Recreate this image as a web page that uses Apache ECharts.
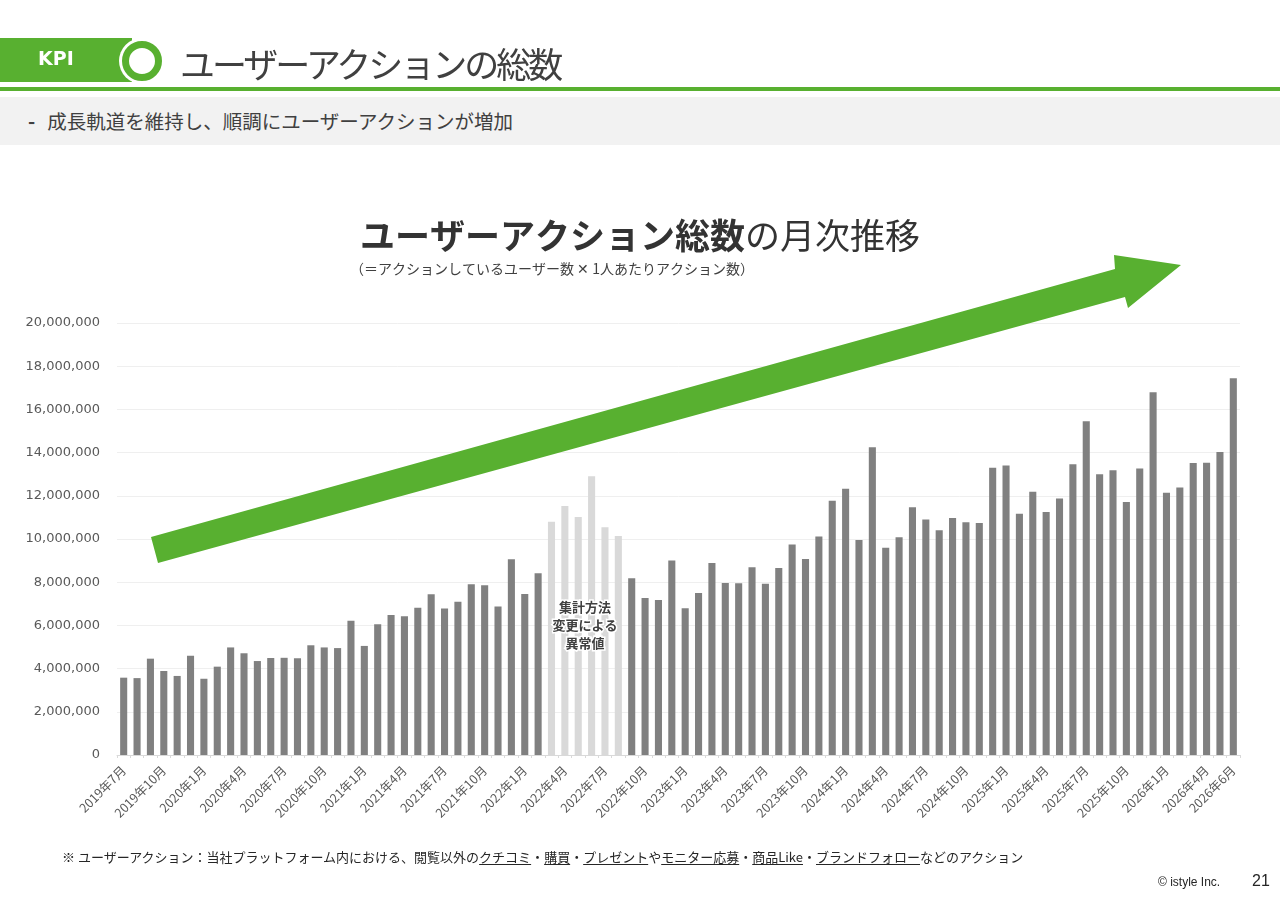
<!DOCTYPE html>
<html>
<head>
<meta charset="utf-8">
<script src="https://cdn.jsdelivr.net/npm/echarts@6/dist/echarts.min.js"></script>
<style>
  html, body { margin: 0; padding: 0; background: #fff; }
  body { width: 1280px; height: 904px; position: relative; overflow: hidden;
         font-family: "Noto Sans CJK JP", "Noto Sans", sans-serif; color: #404040; }
  #chart { position: absolute; left: 0; top: 0; width: 1280px; height: 904px; }
  .kpi { position: absolute; left: 0; top: 38px; width: 132px; height: 44px; background: #58b030; }
  .kpi span { position: absolute; left: 38px; top: 9px; color: #fff; font: bold 19px "DejaVu Sans", sans-serif; }
  .ring { position: absolute; left: 119px; top: 38px; width: 46px; height: 46px; border-radius: 50%; background: #fff; }
  .ring div { position: absolute; left: 3px; top: 3px; width: 26px; height: 26px; border-radius: 50%; border: 7px solid #58b030; background: #fff; }
  .head { position: absolute; left: 180px; top: 37px; font-size: 35px; color: #404040; letter-spacing: -3px; }
  .gline { position: absolute; left: 0; top: 87px; width: 1280px; height: 4px; background: #58b030; }
  .band { position: absolute; left: 0; top: 97px; width: 1280px; height: 48px; background: #f2f2f2; }
  .band span { position: absolute; left: 28px; top: 9px; font-size: 19.5px; color: #404040; }
  .note { position: absolute; left: 62px; top: 847px; font-size: 13px; color: #262626; }
  .note u { text-underline-offset: 2px; }
  .copy { position: absolute; left: 1158px; top: 875px; font: 12px "Liberation Sans", Arial, sans-serif; color: #262626; }
  .page { position: absolute; left: 1252px; top: 872px; font: 16px "Liberation Sans", Arial, sans-serif; color: #262626; }
</style>
</head>
<body>
<div id="chart"></div>
<div class="kpi"><span>KPI</span></div>
<div class="ring"><div></div></div>
<div class="head">ユーザーアクションの総数</div>
<div class="gline"></div>
<div class="band"><span><b style="margin-right:12px">-</b>成長軌道を維持し、順調にユーザーアクションが増加</span></div>
<div class="note">※ ユーザーアクション：当社プラットフォーム内における、閲覧以外の<u>クチコミ</u>・<u>購買</u>・<u>プレゼント</u>や<u>モニター応募</u>・<u>商品Like</u>・<u>ブランドフォロー</u>などのアクション</div>
<div class="copy">© istyle Inc.</div>
<div class="page">21</div>
<script>
// 月ラベル (2019年7月〜2026年6月)
const months = [
  '2019年7月','2019年8月','2019年9月','2019年10月','2019年11月','2019年12月',
  '2020年1月','2020年2月','2020年3月','2020年4月','2020年5月','2020年6月',
  '2020年7月','2020年8月','2020年9月','2020年10月','2020年11月','2020年12月',
  '2021年1月','2021年2月','2021年3月','2021年4月','2021年5月','2021年6月',
  '2021年7月','2021年8月','2021年9月','2021年10月','2021年11月','2021年12月',
  '2022年1月','2022年2月','2022年3月','2022年4月','2022年5月','2022年6月',
  '2022年7月','2022年8月','2022年9月','2022年10月','2022年11月','2022年12月',
  '2023年1月','2023年2月','2023年3月','2023年4月','2023年5月','2023年6月',
  '2023年7月','2023年8月','2023年9月','2023年10月','2023年11月','2023年12月',
  '2024年1月','2024年2月','2024年3月','2024年4月','2024年5月','2024年6月',
  '2024年7月','2024年8月','2024年9月','2024年10月','2024年11月','2024年12月',
  '2025年1月','2025年2月','2025年3月','2025年4月','2025年5月','2025年6月',
  '2025年7月','2025年8月','2025年9月','2025年10月','2025年11月','2025年12月',
  '2026年1月','2026年2月','2026年3月','2026年4月','2026年5月','2026年6月'
]

// ユーザーアクション総数 (月次)
const actions = [
  3580000, 3560000, 4460000, 3890000, 3660000, 4600000,
  3530000, 4090000, 4980000, 4710000, 4350000, 4490000,
  4500000, 4480000, 5080000, 4980000, 4950000, 6220000,
  5050000, 6050000, 6480000, 6420000, 6820000, 7440000,
  6780000, 7100000, 7900000, 7860000, 6880000, 9060000,
  7450000, 8410000, 10800000, 11530000, 11020000, 12900000,
  10540000, 10140000, 8180000, 7270000, 7180000, 9000000,
  6790000, 7500000, 8890000, 7960000, 7950000, 8690000,
  7930000, 8660000, 9740000, 9070000, 10120000, 11770000,
  12330000, 9950000, 14250000, 9600000, 10080000, 11470000,
  10900000, 10400000, 10970000, 10770000, 10740000, 13300000,
  13400000, 11170000, 12190000, 11250000, 11880000, 13460000,
  15450000, 13000000, 13180000, 11710000, 13260000, 16790000,
  12140000, 12390000, 13520000, 13530000, 14030000, 17440000
]

// 集計方法変更による異常値の月
const anomalyMonths = ['2022年3月','2022年4月','2022年5月','2022年6月','2022年7月','2022年8月']

const yTicks = [0, 20000000, 2000000]

const barData = actions.map((v, i) => ({
  value: v,
  itemStyle: { color: anomalyMonths.includes(months[i]) ? '#d9d9d9' : '#808080' }
}))

const myChart = echarts.init(document.getElementById('chart'))
const option = {
  animation: false,
  title: {
    text: '{b|ユーザーアクション総数}{r|の月次推移}',
    left: 'center',
    top: 213,
    textStyle: {
      rich: {
        b: { fontSize: 35, fontWeight: 'bold', color: '#333', fontFamily: 'Noto Sans CJK JP' },
        r: { fontSize: 35, fontWeight: 'normal', color: '#333', fontFamily: 'Noto Sans CJK JP' }
      }
    }
  },
  grid: { left: 117, right: 40, top: 323, bottom: 149 },
  xAxis: {
    type: 'category',
    data: months,
    axisLine: { lineStyle: { color: '#d9d9d9' } },
    axisTick: { show: true, interval: 0, length: 3, lineStyle: { color: '#d9d9d9' } },
    axisLabel: {
      rotate: 45,
      interval: (i) => i % 3 === 0 || i === months.length - 1,
      color: '#595959',
      fontSize: 12.5,
      margin: 13,
      fontFamily: 'Noto Sans CJK JP'
    }
  },
  yAxis: {
    type: 'value',
    min: yTicks[0],
    max: yTicks[1],
    interval: yTicks[2],
    axisLine: { show: false },
    axisTick: { show: false },
    splitLine: { lineStyle: { color: '#efefef' } },
    axisLabel: {
      color: '#595959',
      fontSize: 13,
      margin: 17,
      fontFamily: 'DejaVu Sans',
      formatter: (v) => v.toLocaleString('en-US')
    }
  },
  series: [{
    type: 'bar',
    data: barData,
    barWidth: '53%'
  }],
  graphic: [
    {
      type: 'text',
      left: 350,
      top: 262,
      style: {
        text: '（＝アクションしているユーザー数 ✕ 1人あたりアクション数）',
        fill: '#404040',
        font: '14px "Noto Sans CJK JP"'
      }
    },
    {
      type: 'polygon',
      z: 10,
      shape: {
        points: [[151, 537], [1115, 269], [1114, 255], [1181, 265], [1128, 308], [1125, 297], [158, 563]]
      },
      style: { fill: '#58b030' }
    },
    {
      type: 'text',
      z: 10,
      x: 585,
      y: 598,
      style: {
        text: '集計方法\n変更による\n異常値',
        align: 'center',
        lineHeight: 18,
        fill: '#404040',
        stroke: '#fff',
        lineWidth: 3,
        font: 'bold 13px "Noto Sans CJK JP"'
      }
    }
  ]
}
myChart.setOption(option)
</script>
</body>
</html>
